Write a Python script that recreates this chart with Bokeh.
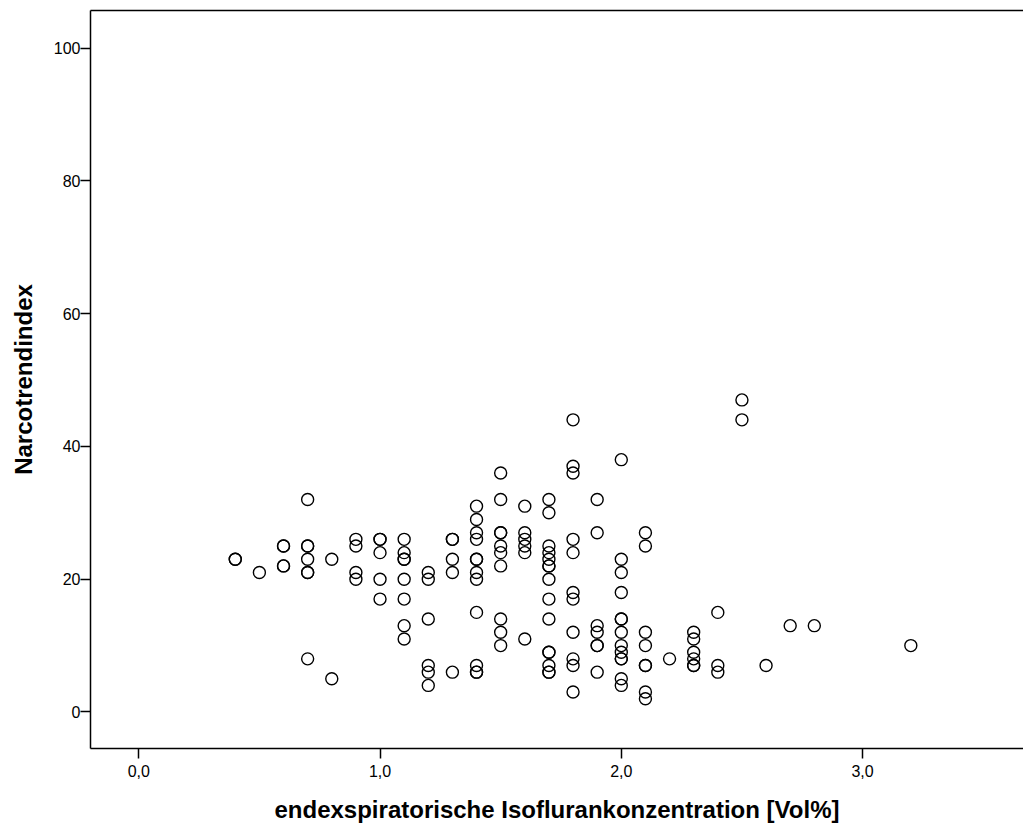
from bokeh.plotting import figure
from bokeh.models import FixedTicker, LinearAxis, Range1d
from bokeh.embed import file_html
from bokeh.resources import INLINE

# Isoflurane concentration (Vol%) per column, and Narcotrend index values
iso_levels = [0.4, 0.5, 0.6, 0.7, 0.8, 0.9, 1.0, 1.1, 1.2, 1.3, 1.4, 1.5, 1.6, 1.7,
              1.8, 1.9, 2.0, 2.1, 2.2, 2.3, 2.4, 2.5, 2.6, 2.7, 2.8, 3.2]
nti_values = [
    [23, 23],
    [21],
    [25, 25, 22, 22],
    [32, 25, 25, 23, 21, 21, 8],
    [23, 5],
    [26, 25, 21, 20],
    [26, 26, 24, 20, 17],
    [26, 24, 23, 23, 20, 17, 13, 11],
    [21, 20, 14, 7, 6, 4],
    [26, 26, 23, 21, 6],
    [31, 29, 27, 26, 23, 23, 21, 20, 15, 7, 6, 6],
    [36, 32, 27, 27, 25, 24, 22, 14, 12, 10],
    [31, 27, 26, 25, 24, 11],
    [32, 30, 25, 24, 23, 22, 22, 20, 17, 14, 9, 9, 7, 6, 6],
    [44, 37, 36, 26, 24, 18, 17, 12, 8, 7, 3],
    [32, 27, 13, 12, 10, 10, 6],
    [38, 23, 21, 18, 14, 14, 12, 10, 9, 8, 8, 5, 4],
    [27, 25, 12, 10, 7, 7, 3, 2],
    [8],
    [12, 11, 9, 8, 7, 7],
    [15, 7, 6],
    [47, 44],
    [7],
    [13],
    [13],
    [10],
]

x_ticks = [0, 1, 2, 3]
x_tick_labels = ["0,0", "1,0", "2,0", "3,0"]
y_ticks = [0, 20, 40, 60, 80, 100]

xs, ys = [], []
for lvl, vals in zip(iso_levels, nti_values):
    for v in vals:
        xs.append(lvl)
        ys.append(v)

FONT = "Liberation Sans"

p = figure(width=1023, height=830, output_backend="svg", toolbar_location=None,
           x_range=Range1d(-0.2, 3.667), y_range=Range1d(-5.5, 105.65),
           min_border_left=90, min_border_right=0, min_border_top=10, min_border_bottom=82)
p.outline_line_color = None
p.xgrid.visible = False
p.ygrid.visible = False
p.background_fill_color = "white"
p.border_fill_color = "white"

p.scatter(xs, ys, marker="circle", size=12, fill_color=None,
          line_color="black", line_width=1.4)

for ax in (p.xaxis[0], p.yaxis[0]):
    ax.axis_line_color = "black"
    ax.axis_line_width = 1.5
    ax.major_tick_line_color = "black"
    ax.major_tick_line_width = 1.5
    ax.major_tick_in = 0
    ax.major_tick_out = 10
    ax.minor_tick_line_color = None
    ax.major_label_text_font = FONT
    ax.major_label_text_font_size = "16px"
    ax.major_label_text_color = "black"
    ax.axis_label_text_font = FONT
    ax.axis_label_text_font_style = "bold"
    ax.axis_label_text_font_size = "24px"
    ax.axis_label_text_color = "black"

p.xaxis[0].ticker = FixedTicker(ticks=x_ticks)
p.xaxis[0].major_label_overrides = {t: l for t, l in zip(x_ticks, x_tick_labels)}
p.xaxis[0].major_label_standoff = 6
p.xaxis[0].axis_label = "endexspiratorische Isoflurankonzentration [Vol%]"
p.xaxis[0].axis_label_standoff = 16

p.yaxis[0].ticker = FixedTicker(ticks=y_ticks)
p.yaxis[0].major_label_standoff = 0
p.yaxis[0].axis_label = "Narcotrendindex"
p.yaxis[0].axis_label_standoff = 14

top = LinearAxis(ticker=FixedTicker(ticks=[]), axis_line_color="black", axis_line_width=1.5,
                 major_tick_line_color=None, minor_tick_line_color=None,
                 major_label_text_font_size="0px", major_label_standoff=0,
                 major_tick_out=0, major_tick_in=0)
p.add_layout(top, "above")

open("out.html", "w").write(file_html(p, INLINE))
